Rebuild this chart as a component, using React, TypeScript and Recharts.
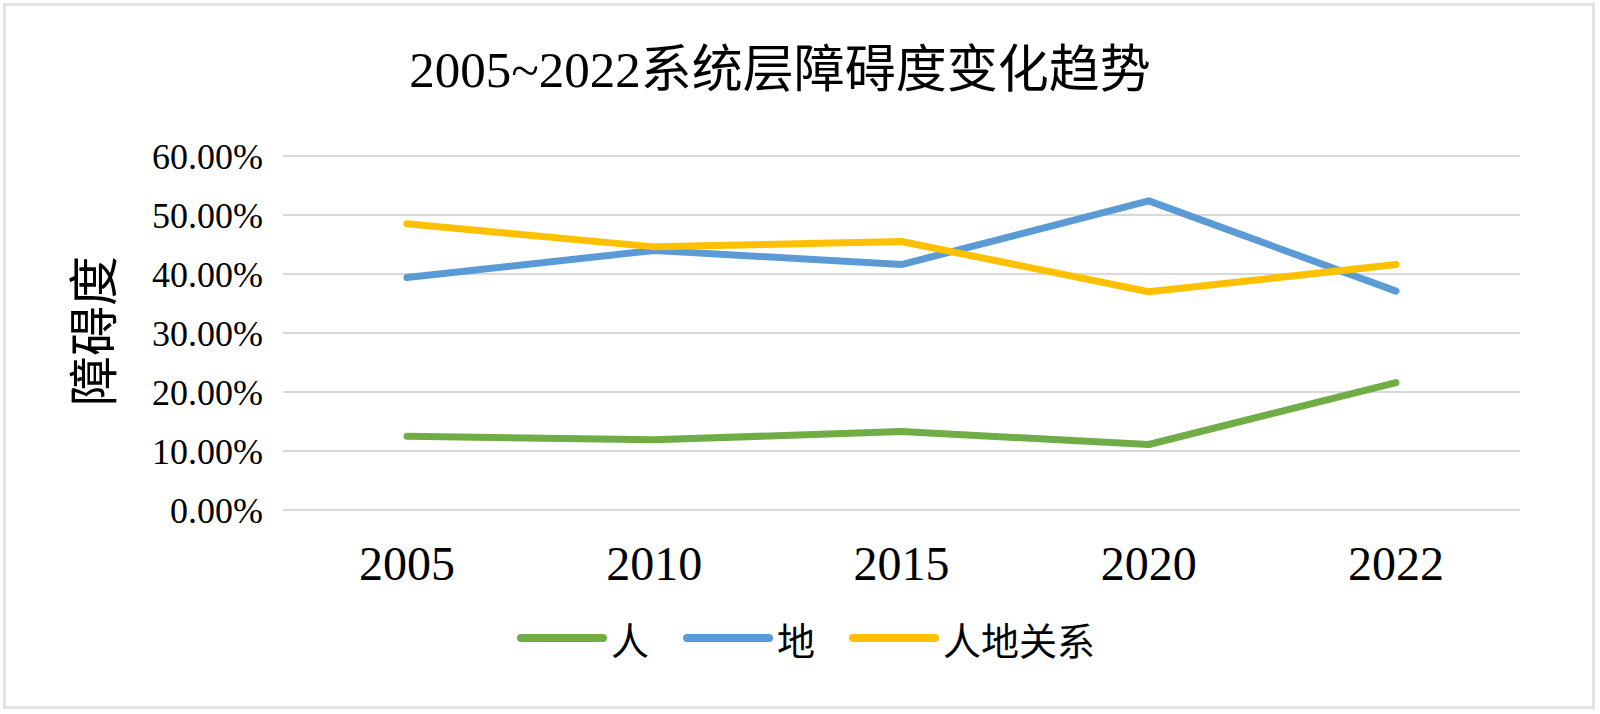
import { LineChart, Line, XAxis, YAxis, CartesianGrid } from 'recharts';

const years = ['2005', '2010', '2015', '2020', '2022'];
const ren = [0.125, 0.119, 0.133, 0.111, 0.216];
const di = [0.394, 0.44, 0.416, 0.524, 0.371];
const rendi = [0.485, 0.446, 0.455, 0.37, 0.416];
const yTicks = [0, 0.1, 0.2, 0.3, 0.4, 0.5, 0.6];

const series = [
  { key: 'ren', name: '人', color: '#70AD47' },
  { key: 'di', name: '地', color: '#5B9BD5' },
  { key: 'rendi', name: '人地关系', color: '#FFC000' },
];

const data = years.map((y, i) => ({ year: y, ren: ren[i], di: di[i], rendi: rendi[i] }));

const FONT = "'Liberation Serif', 'Times New Roman', 'Noto Sans CJK SC', serif";

export default function App() {
  return (
    <div style={{ position: 'absolute', left: 0, top: 0, width: 1600, height: 714, background: '#fff', fontFamily: FONT }}>
      <div style={{ position: 'absolute', left: 3, top: 3, width: 1586, height: 700, border: '3px solid #e2e2e2' }} />
      <div style={{ position: 'absolute', left: 0, top: 40, width: 1560, textAlign: 'center', fontSize: 51, color: '#000', lineHeight: '60px' }}>
        2005~2022系统层障碍度变化趋势
      </div>
      <div
        style={{
          position: 'absolute', left: 95, top: 331, fontSize: 50, lineHeight: '50px', whiteSpace: 'nowrap',
          transform: 'translate(-50%, -50%) rotate(-90deg)', color: '#000',
        }}
      >
        障碍度
      </div>
      <div style={{ position: 'absolute', left: 0, top: 0 }}>
        <LineChart width={1600} height={714} data={data} margin={{ top: 156, right: 80, left: 90, bottom: 124 }}>
          <CartesianGrid vertical={false} stroke="#d9d9d9" strokeWidth={2} />
          <XAxis
            dataKey="year"
            axisLine={false}
            tickLine={false}
            tickSize={0}
            tickMargin={36}
            height={80}
            padding={{ left: 124, right: 124 }}
            tick={{ fontSize: 48, fill: '#000', fontFamily: FONT }}
          />
          <YAxis
            width={193}
            domain={[0, 0.6]}
            ticks={yTicks}
            axisLine={false}
            tickLine={false}
            tickSize={0}
            tickMargin={20}
            tickFormatter={(v: number) => `${(v * 100).toFixed(2)}%`}
            tick={{ fontSize: 36, fill: '#000', fontFamily: FONT }}
          />
          {series.map((s) => (
            <Line
              key={s.key}
              dataKey={s.key}
              name={s.name}
              stroke={s.color}
              strokeWidth={7}
              dot={false}
              type="linear"
              strokeLinecap="round"
              strokeLinejoin="round"
              isAnimationActive={false}
            />
          ))}
        </LineChart>
      </div>
      <div style={{ position: 'absolute', left: 517, top: 613, display: 'flex', alignItems: 'center', height: 50 }}>
        {series.map((s) => (
          <div key={s.key} style={{ display: 'flex', alignItems: 'center', marginRight: 34 }}>
            <div style={{ width: 90, height: 8, borderRadius: 4, background: s.color, marginRight: 4 }} />
            <span style={{ fontSize: 38, color: '#000' }}>{s.name}</span>
          </div>
        ))}
      </div>
    </div>
  );
}
